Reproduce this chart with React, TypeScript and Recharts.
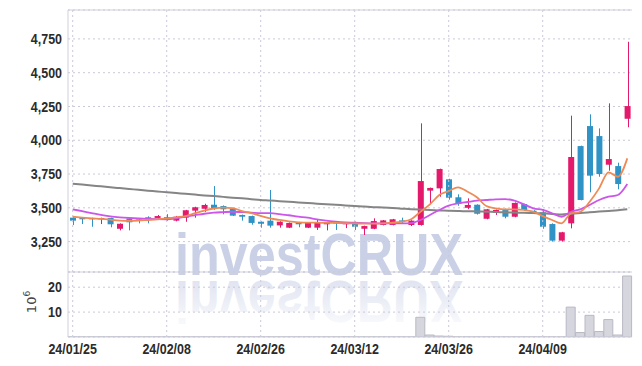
import React from 'react';
import { ComposedChart, Bar, Line, XAxis, YAxis, CartesianGrid, ReferenceLine } from 'recharts';

const dates = [
  '24/01/25','24/01/26','24/01/29','24/01/30','24/01/31','24/02/01','24/02/02','24/02/05','24/02/06','24/02/07',
  '24/02/08','24/02/13','24/02/14','24/02/15','24/02/16','24/02/19','24/02/20','24/02/21','24/02/22','24/02/23',
  '24/02/26','24/02/27','24/02/28','24/02/29','24/03/04','24/03/05','24/03/06','24/03/07','24/03/08','24/03/11',
  '24/03/12','24/03/13','24/03/14','24/03/15','24/03/18','24/03/19','24/03/20','24/03/21','24/03/22','24/03/25',
  '24/03/26','24/03/27','24/03/28','24/03/29','24/04/01','24/04/02','24/04/03','24/04/04','24/04/05','24/04/08',
  '24/04/09','24/04/11','24/04/12','24/04/15','24/04/16','24/04/17','24/04/18','24/04/19','24/04/22','24/04/23',
];
const opens = [
  3427,3425,3425,3415,3425,3345,3422,3422,3430,3425,
  3410,3405,3427,3479,3493,3523,3513,3493,3447,3439,
  3397,3405,3370,3353,3393,3353,3353,3378,3393,3378,
  3395,3345,3345,3373,3373,3407,3373,3373,3627,3644,
  3711,3578,3500,3523,3419,3464,3491,3434,3528,3478,
  3467,3380,3257,3385,3957,4105,4031,3819,3809,4159,
];
const highs = [
  3432,3427,3427,3427,3427,3385,3425,3425,3437,3447,
  3452,3440,3485,3508,3530,3661,3518,3497,3450,3442,
  3400,3632,3400,3392,3396,3393,3415,3396,3396,3393,
  3398,3368,3422,3410,3418,3427,3408,4125,3650,3790,
  3715,3600,3570,3526,3492,3488,3494,3540,3531,3482,
  3490,3385,3322,4182,3960,4192,4088,4273,3834,4729,
];
const lows = [
  3373,3380,3360,3380,3356,3333,3333,3385,3385,3420,
  3405,3400,3397,3427,3470,3485,3452,3440,3405,3375,
  3353,3353,3353,3350,3356,3350,3336,3333,3336,3350,
  3336,3299,3342,3370,3370,3380,3365,3368,3533,3582,
  3560,3515,3490,3450,3415,3447,3422,3430,3480,3455,
  3345,3250,3250,3348,3555,3615,3730,3775,3637,4096,
];
const closes = [
  3405,3415,3415,3425,3378,3382,3393,3415,3422,3439,
  3430,3434,3482,3504,3521,3493,3489,3442,3434,3388,
  3382,3368,3397,3388,3378,3390,3390,3393,3388,3390,
  3360,3365,3402,3407,3415,3397,3405,3698,3647,3787,
  3575,3528,3521,3456,3489,3484,3434,3536,3484,3459,
  3360,3257,3319,3876,3558,3738,3750,3861,3676,4253,
];
// volume in millions
const volumes = [
  0.03,0.03,0.03,0.03,0.03,0.03,0.03,0.03,0.03,0.03,
  0.03,0.03,0.03,0.03,0.03,0.03,0.03,0.03,0.03,0.03,
  0.03,0.03,0.03,0.03,0.03,0.03,0.03,0.03,0.03,0.03,
  0.03,0.03,0.03,0.03,0.03,0.03,0.03,7.9,0.8,0.4,
  0.3,0.03,0.03,0.03,0.03,0.03,0.03,0.03,0.03,0.03,
  0.03,0.03,0.03,12,1.8,8.7,2.2,7,0.8,24.5,
];
const ma5 = [
  3434,3428,3422,3418,3412,3405,3403,3405,3410,3415,
  3422,3430,3439,3460,3480,3495,3501,3498,3476,3460,
  3440,3422,3410,3400,3393,3390,3390,3388,3388,3386,
  3385,3383,3383,3385,3390,3397,3415,3471,3526,3595,
  3624,3652,3619,3578,3513,3496,3489,3489,3484,3471,
  3439,3410,3385,3459,3471,3545,3644,3763,3730,3866,
];
const ma20 = [
  3489,3475,3461,3447,3437,3430,3425,3421,3418,3416,
  3415,3422,3434,3445,3456,3464,3468,3471,3468,3464,
  3460,3460,3454,3445,3435,3427,3414,3405,3397,3392,
  3390,3387,3385,3385,3385,3385,3387,3410,3447,3484,
  3516,3533,3543,3553,3558,3563,3565,3553,3526,3496,
  3485,3460,3434,3471,3489,3521,3558,3582,3595,3676,
];
const ma120 = [
  3678,3672,3665,3659,3652,3646,3640,3633,3627,3621,
  3615,3609,3604,3598,3592,3587,3581,3575,3570,3564,
  3558,3554,3549,3545,3540,3536,3531,3527,3522,3518,
  3513,3509,3505,3502,3498,3494,3490,3487,3484,3481,
  3478,3476,3475,3473,3471,3469,3467,3465,3463,3461,
  3459,3455,3450,3456,3462,3467,3472,3477,3482,3489,
];
const priceTicks = [3250, 3500, 3750, 4000, 4250, 4500, 4750];
const volumeTicks = [10, 20];
const dateTicks = ['24/01/25', '24/02/08', '24/02/26', '24/03/12', '24/03/26', '24/04/09'];

const PRICE_MIN = 3025;
const PRICE_MAX = 4964;

const PINK = '#e3196b';
const BLUE = '#2f93c6';
const GRID = '#c9c9da';
const BORDER = '#cfcfdc';
const FONT = "'Liberation Sans', Arial, sans-serif";

const data = dates.map((date, i) => ({
  date,
  open: opens[i],
  high: highs[i],
  low: lows[i],
  close: closes[i],
  range: [lows[i], highs[i]],
  vol: volumes[i],
  ma5: ma5[i],
  ma20: ma20[i],
  ma120: ma120[i],
}));

const Candle = (props: any) => {
  const { x, y, width, height, payload } = props;
  if (!payload) return null;
  const { open, close, high, low } = payload;
  const top0 = Math.min(y, y + height);
  const h = Math.abs(height);
  const span = high - low || 1;
  const yOf = (v: number) => top0 + ((high - v) / span) * h;
  const up = close >= open;
  const color = up ? PINK : BLUE;
  const bt = yOf(Math.max(open, close));
  const bb = yOf(Math.min(open, close));
  const cx = Math.round(x + width / 2) + 0.5;
  return (
    <g>
      <line x1={cx} x2={cx} y1={top0} y2={top0 + h} stroke={color} strokeWidth={1} />
      <rect x={x} y={bt} width={width} height={Math.max(bb - bt, 1.2)} fill={color} />
    </g>
  );
};

const NarrowTick = (props: any) => {
  const { x, y, payload, textAnchor, formatter, vertical } = props;
  const label = formatter ? formatter(payload.value) : String(payload.value);
  return (
    <g transform={`translate(${x},${y}) scale(0.86,1)`}>
      <text
        x={0}
        y={0}
        dy={vertical ? '0.355em' : '0.71em'}
        textAnchor={textAnchor}
        fill="#2b2b2b"
        fontSize={14.5}
        fontFamily={FONT}
        fontWeight={700}
      >
        {label}
      </text>
    </g>
  );
};

const fmt = (v: number) => v.toLocaleString('en-US');

export default function App() {
  return (
    <div style={{ position: 'absolute', left: 0, top: 0, width: 642, height: 366, background: '#fff', overflow: 'hidden' }}>
      <svg width={642} height={366} style={{ position: 'absolute', left: 0, top: 0 }}>
        <defs>
          <linearGradient id="refl" x1="0" y1="275" x2="0" y2="233" gradientUnits="userSpaceOnUse">
            <stop offset="0" stopColor="#cdd3e8" stopOpacity={0.6} />
            <stop offset="1" stopColor="#cdd3e8" stopOpacity={0.15} />
          </linearGradient>
        </defs>
        <text x={175} y={275} fontFamily={FONT} fontWeight={700} fontSize={59}
          textLength={288} lengthAdjust="spacingAndGlyphs" fill="#cad1e7">investCRUX</text>
        <text x={175} y={275} transform="translate(0,556) scale(1,-1)" fontFamily={FONT}
          fontWeight={700} fontSize={59} textLength={288} lengthAdjust="spacingAndGlyphs" fill="url(#refl)">investCRUX</text>
        <text transform="translate(36,302) rotate(-90)" textAnchor="middle" fontFamily="'DejaVu Sans', sans-serif"
          fontSize={13} fill="#444">10<tspan dy={-6} fontSize={9}>6</tspan></text>
      </svg>

      <div style={{ position: 'absolute', left: 0, top: 0 }}>
        <ComposedChart width={642} height={280} data={data} margin={{ top: 10, right: 10, bottom: 8, left: 0 }}>
          <CartesianGrid vertical={false} stroke={GRID} strokeDasharray="2 3" />
          <XAxis dataKey="date" type="category" hide />
          <YAxis
            width={68}
            domain={[PRICE_MIN, PRICE_MAX]}
            allowDataOverflow
            ticks={priceTicks}
            tick={<NarrowTick formatter={fmt} vertical />}
            tickLine={false}
            tickSize={4}
            tickMargin={2}
            axisLine={{ stroke: BORDER }}
          />
          {dateTicks.map((d) => (
            <ReferenceLine key={d} x={d} stroke={GRID} strokeDasharray="2 3" />
          ))}
          <ReferenceLine y={PRICE_MAX} stroke={BORDER} />
          <ReferenceLine y={PRICE_MIN} stroke={BORDER} />
          <Bar dataKey="range" barSize={6} shape={<Candle />} isAnimationActive={false} />
          <Line type="monotone" dataKey="ma120" stroke="#858585" strokeWidth={2} dot={false} isAnimationActive={false} />
          <Line type="monotone" dataKey="ma20" stroke="#cc55ea" strokeWidth={1.8} dot={false} isAnimationActive={false} />
          <Line type="monotone" dataKey="ma5" stroke="#ee8a55" strokeWidth={1.8} dot={false} isAnimationActive={false} />
        </ComposedChart>
      </div>

      <div style={{ position: 'absolute', left: 0, top: 0 }}>
        <ComposedChart width={642} height={366} data={data} barCategoryGap={0} margin={{ top: 272, right: 10, bottom: 0, left: 0 }}>
          <CartesianGrid vertical={false} stroke={GRID} strokeDasharray="2 3" />
          <XAxis
            dataKey="date"
            type="category"
            ticks={dateTicks}
            interval={0}
            height={29}
            tick={<NarrowTick />}
            tickLine={false}
            tickSize={5}
            axisLine={{ stroke: BORDER }}
          />
          <YAxis
            width={68}
            domain={[0, 26.1]}
            allowDataOverflow
            ticks={volumeTicks}
            tick={<NarrowTick vertical />}
            tickLine={false}
            tickSize={4}
            tickMargin={2}
            axisLine={{ stroke: BORDER }}
          />
          {dateTicks.map((d) => (
            <ReferenceLine key={d} x={d} stroke={GRID} strokeDasharray="2 3" />
          ))}
          <Bar dataKey="vol" fill="#d6d6de" stroke="#b9b9c4" strokeWidth={1} isAnimationActive={false} />
        </ComposedChart>
      </div>
    </div>
  );
}
